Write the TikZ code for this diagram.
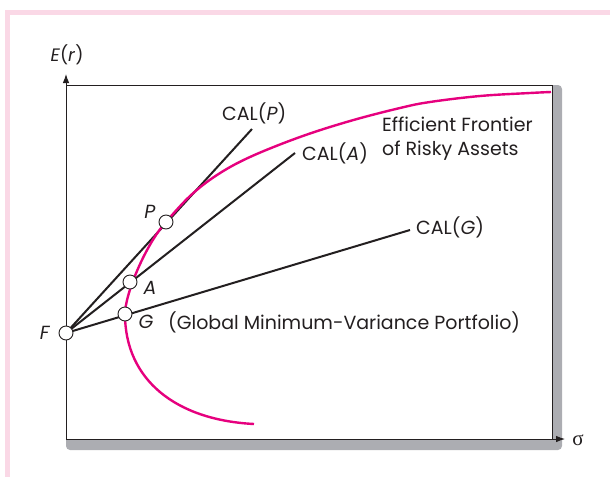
\documentclass[tikz,border=0pt]{standalone}
\usepackage{fontspec}
\setmainfont{Poppins}
\newfontfamily\greekfont{Liberation Serif}
\usetikzlibrary{arrows.meta}
\definecolor{framepink}{RGB}{250,216,230}
\definecolor{rubine}{RGB}{230,0,126}
\definecolor{shadowgray}{RGB}{172,173,178}
\definecolor{ink}{RGB}{35,31,32}
\tikzset{
  lbl/.style={inner sep=0pt, text=ink, font=\fontsize{19}{24}\selectfont},
  cal/.style={draw=ink, line width=2pt},
  dot/.style={circle, draw=ink, fill=white, line width=0.9pt, minimum size=14pt, inner sep=0pt},
  axis/.style={draw=ink, line width=0.9pt, -{Latex[length=9pt,width=6.5pt]}},
  frontier/.style={draw=rubine, line width=2.4pt}
}
\begin{document}
\begin{tikzpicture}[x=1pt,y=-1pt]
\useasboundingbox (0,0) rectangle (610,477);
% pink frame
\fill[framepink] (5,10) rectangle (610,15);
\fill[framepink] (5,10) rectangle (10,477);
% shadow and plot box
\fill[shadowgray, rounded corners=4pt] (66,85) rectangle (562,450);
\fill[white] (66,85) rectangle (552,439);
\draw[ink, line width=0.7pt] (66,85) -- (552,85) -- (552,439);
% axes
\coordinate (O) at (66,439);
\coordinate (Ytip) at (66,74);
\coordinate (Xtip) at (565,439);
\draw[axis] (O) -- (Ytip);
\draw[axis] (O) -- (Xtip);
\node[lbl, font=\fontsize{18}{20}\selectfont] (Er) at (67,55) {\textit{E}(\textit{r})};
\node[lbl, font=\greekfont\fontsize{21}{24}\selectfont] (sig) at (578,440) {σ};
% points
\coordinate (Fc) at (66,333);
\coordinate (Pc) at (166,222);
\coordinate (Ac) at (130,282);
\coordinate (Gc) at (125,314);
\coordinate (endP) at (252,129);
\coordinate (endA) at (295,153);
\coordinate (endG) at (410,230);
% CAL lines
\draw[cal] (Fc) -- (endP);
\draw[cal] (Fc) -- (endA);
\draw[cal] (Fc) -- (endG);
% efficient frontier
\draw[frontier] (254,424) .. controls (176,420) and (125,380) .. (Gc)
  .. controls (125,294) and (145.8,244.2) .. (Pc)
  -- plot[smooth, tension=0.6] coordinates {
  (166,222) (190,196) (217,175) (250,157) (300,137) (350,121)
  (400,108) (430,102) (480,96) (530,93) (551,92)};
% portfolio circles
\node[dot] (F) at (Fc) {};
\node[dot] (P) at (Pc) {};
\node[dot] (A) at (Ac) {};
\node[dot] (G) at (Gc) {};
% labels
\node[lbl] (Flbl) at (45,333) {\textit{F}};
\node[lbl] (Plbl) at (150,212) {\textit{P}};
\node[lbl] (Albl) at (150,288) {\textit{A}};
\node[lbl] (Glbl) at (146,322) {\textit{G}};
\node[lbl, anchor=west] (gmv) at (168,322) {(Global Minimum-Variance Portfolio)};
\node[lbl, anchor=west] (calP) at (222,113) {CAL(\textit{P})};
\node[lbl, anchor=west] (calA) at (302,153) {CAL(\textit{A})};
\node[lbl, anchor=west] (calG) at (416,227) {CAL(\textit{G})};
\node[lbl, anchor=west, align=left] (eff) at (382,139) {Efficient Frontier\\of Risky Assets};
\end{tikzpicture}
\end{document}
